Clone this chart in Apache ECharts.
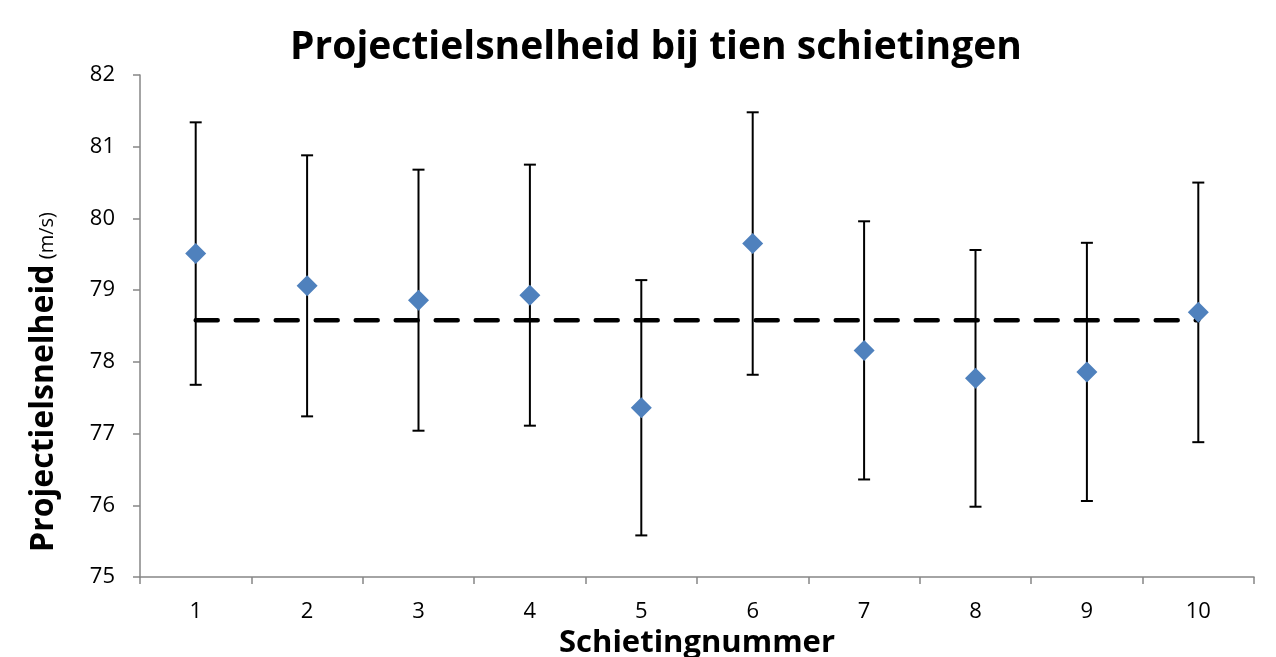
<!DOCTYPE html>
<html><head><meta charset="utf-8">
<script src="https://cdn.jsdelivr.net/npm/echarts@6/dist/echarts.min.js"></script>
<style>html,body{margin:0;padding:0;background:#fff}#c{width:1276px;height:657px}</style>
</head><body><div id="c"></div>
<script>
const categories = ['1','2','3','4','5','6','7','8','9','10'];
const speeds = [79.51, 79.06, 78.86, 78.93, 77.36, 79.65, 78.16, 77.77, 77.86, 78.69];
const errors = [1.83, 1.82, 1.82, 1.82, 1.78, 1.83, 1.80, 1.79, 1.80, 1.81];
const meanSpeed = 78.58;
const yTicks = [75, 82, 1];

const FONT = '"Open Sans", "Noto Sans", sans-serif';
const chart = echarts.init(document.getElementById('c'));
const errData = categories.map((c, i) => [i, speeds[i] - errors[i], speeds[i] + errors[i]]);

chart.setOption({
  animation: false,
  title: {
    text: 'Projectielsnelheid bij tien schietingen',
    left: 651, top: 23, textAlign: 'center',
    textStyle: { fontFamily: FONT, fontSize: 39, fontWeight: 'bold', color: '#000' }
  },
  grid: { left: 140, right: 22, top: 75, bottom: 80, containLabel: false, outerBoundsMode: 'none' },
  xAxis: {
    type: 'category', data: categories,
    name: 'Schietingnummer', nameLocation: 'middle', nameGap: 49,
    nameTextStyle: { fontFamily: FONT, fontSize: 31, fontWeight: 'bold', color: '#000' },
    axisLine: { lineStyle: { color: '#868686', width: 1.5 } },
    axisTick: { show: true, length: 7, lineStyle: { color: '#868686', width: 1.5 } },
    axisLabel: { fontFamily: FONT, fontSize: 22, color: '#000', margin: 24 },
    splitLine: { show: false }
  },
  yAxis: {
    type: 'value', min: yTicks[0], max: yTicks[1], interval: yTicks[2],
    name: '{b|Projectielsnelheid}{s| (m/s)}', nameLocation: 'middle', nameGap: 80, nameRotate: 90,
    nameTextStyle: {
      padding: [0, 112, 0, 0],
      rich: {
        b: { fontFamily: FONT, fontSize: 32, fontWeight: 'bold', color: '#000' },
        s: { fontFamily: FONT, fontSize: 20, color: '#000', padding: [6, 0, 0, 0] }
      }
    },
    axisLine: { show: true, lineStyle: { color: '#868686', width: 1.5 } },
    axisTick: { show: true, length: 7, lineStyle: { color: '#868686', width: 1.5 } },
    axisLabel: { fontFamily: FONT, fontSize: 22, color: '#000', margin: 25 },
    splitLine: { show: false }
  },
  series: [
    {
      type: 'line', data: categories.map(() => meanSpeed), symbol: 'none', z: 3,
      lineStyle: { color: '#000', width: 4.5, type: [22, 18], cap: 'round' }
    },
    {
      type: 'custom', data: errData, z: 4,
      renderItem: function (params, api) {
        const x = api.value(0);
        const lo = api.coord([x, api.value(1)]);
        const hi = api.coord([x, api.value(2)]);
        const hw = 6;
        const style = { stroke: '#000', lineWidth: 2 };
        return {
          type: 'group',
          children: [
            { type: 'line', shape: { x1: lo[0], y1: lo[1], x2: hi[0], y2: hi[1] }, style: style },
            { type: 'line', shape: { x1: lo[0] - hw, y1: lo[1], x2: lo[0] + hw, y2: lo[1] }, style: style },
            { type: 'line', shape: { x1: hi[0] - hw, y1: hi[1], x2: hi[0] + hw, y2: hi[1] }, style: style }
          ]
        };
      }
    },
    {
      type: 'scatter', data: speeds, symbol: 'diamond', symbolSize: [21, 21], z: 5,
      itemStyle: { color: '#4F81BD', opacity: 1 }
    }
  ]
});
</script></body></html>
